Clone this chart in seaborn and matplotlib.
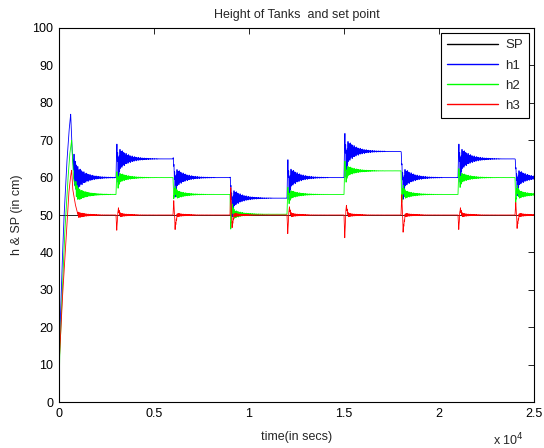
import numpy as np
import pandas as pd
import matplotlib
matplotlib.use("Agg")
import matplotlib.pyplot as plt
import seaborn as sns

# ---------------- data ----------------
step_times = [0, 3000, 6000, 9000, 12000, 15000, 18000, 21000, 24000]
sp_time = [0, 25000]
sp_value = [50, 50]

# settled levels after each set-point change
h1_level = [60, 65, 60, 54.5, 60, 67, 60, 65, 60]
h2_level = [55.5, 60, 55.5, 50.2, 55.5, 61.8, 55.5, 60, 55.5]
h3_level = [50, 50, 50, 50, 50, 50, 50, 50, 50]

# first and second excursion after each change (index 0 unused), oscillation size
h1_first = [None, 69, 63.6, 58, 65, 72, 63.8, 69, 62.7]
h1_second = [None, 62, 57.5, 52, 57, 63.5, 57, 62, 57.5]
h1_osc = [4.0, 3.8, 3.2, 3.0, 3.4, 4.0, 3.3, 3.8, 2.8]

h2_first = [None, 61.6, 54.5, 46.4, 57.5, 64.5, 53.5, 62.5, 53.5]
h2_second = [None, 58.6, 56.8, 52, 54.3, 60.3, 57, 58.8, 57]
h2_osc = [1.9, 1.7, 1.5, 1.6, 1.5, 1.8, 1.5, 1.7, 1.5]

h3_first = [None, 46, 53.9, 57.4, 45.1, 44, 55.5, 46.2, 53.4]
h3_second = [None, 51.7, 46.7, 47.2, 52, 52.5, 46, 51.7, 47]
h3_osc = [0.7, 0.7, 0.7, 0.7, 0.7, 0.7, 0.7, 0.7, 0.7]

# initial fill-up transient
h1_init_t = [0, 20, 140, 250, 400, 520, 615, 700, 780]
h1_init_v = [0, 14, 33, 48, 63, 72, 77, 66, 62]
h2_init_t = [0, 30, 160, 300, 450, 560, 665, 760, 880]
h2_init_v = [0, 11, 28, 45, 58, 66, 70, 60, 57]
h3_init_t = [0, 5, 160, 350, 500, 600, 665, 720, 850, 1000]
h3_init_v = [0, 10, 26, 42, 55, 60, 62, 57, 53, 50]

t = np.arange(0, 25001, 2.0)


def build(levels, first, second, osc, init_t, init_v, period=40.0):
    y = np.empty_like(t)
    m0 = t <= init_t[-1]
    y[m0] = np.interp(t[m0], init_t, init_v)
    for k in range(len(step_times)):
        t0 = step_times[k] if k > 0 else init_t[-1]
        t1 = step_times[k + 1] if k + 1 < len(step_times) else t[-1] + 1
        m = (t > t0) & (t < t1) if k == 0 else (t >= t0) & (t < t1)
        tau = t[m] - t0
        L = levels[k]
        if k == 0:
            shape = np.interp(tau, [0, 150], [init_v[-1], L])
            env = np.exp(-tau / 450.0)
        else:
            shape = np.interp(tau, [0, 40, 110, 220],
                              [levels[k - 1], first[k], second[k], L])
            env = np.exp(-tau / 450.0) * np.clip(tau / 120.0, 0, 1)
        wob = osc[k] * env * np.sin(2 * np.pi * tau / period)
        tail = (0.15 * osc[k] * np.exp(-tau / 900.0)
                * np.sin(2 * np.pi * tau / (period * 1.6)) * (tau < 2200))
        y[m] = shape + wob + tail
    return y


h1 = build(h1_level, h1_first, h1_second, h1_osc, h1_init_t, h1_init_v)
h2 = build(h2_level, h2_first, h2_second, h2_osc, h2_init_t, h2_init_v)
h3 = build(h3_level, h3_first, h3_second, h3_osc, h3_init_t, h3_init_v)

# ---------------- plotting ----------------
sns.set_style("white")
plt.rcParams['font.family'] = ['Liberation Sans', 'DejaVu Sans']

fig = plt.figure(figsize=(5.44, 4.48), dpi=100)
ax = fig.add_axes([59 / 544, 1 - 402 / 448, 475 / 544, 374 / 448])

lw = 0.6
sns.lineplot(x=sp_time, y=sp_value, color='black', lw=lw, ax=ax, label='SP')
sns.lineplot(x=t, y=h1, color='#0000ff', lw=lw, ax=ax, label='h1',
             estimator=None, sort=False)
sns.lineplot(x=t, y=h2, color='#00ff00', lw=lw, ax=ax, label='h2',
             estimator=None, sort=False)
sns.lineplot(x=t, y=h3, color='#ff0000', lw=lw, ax=ax, label='h3',
             estimator=None, sort=False)

ax.set_xlim(0, 25000)
ax.set_ylim(0, 100)
ax.set_xticks([0, 5000, 10000, 15000, 20000, 25000])
ax.set_xticklabels(['0', '0.5', '1', '1.5', '2', '2.5'])
ax.set_yticks(np.arange(0, 101, 10))
ax.tick_params(axis='both', which='both', direction='in', length=4, width=0.6,
               top=True, right=True, labelsize=9, colors='black', pad=4)
for s in ax.spines.values():
    s.set_visible(True)
    s.set_color('black')
    s.set_linewidth(0.8)

ax.set_title('Height of Tanks  and set point', fontsize=9, pad=7)
ax.set_xlabel('time(in secs)', fontsize=9, labelpad=8)
ax.set_ylabel('h & SP (in cm)', fontsize=9, labelpad=7)
fig.text(493 / 544, 1 - 440 / 448, r'x 10$^4$', fontsize=9, va='center', ha='left')

leg = ax.legend(loc='upper right', fontsize=9.5, frameon=True, fancybox=False,
                framealpha=1, edgecolor='black', handlelength=3.9,
                handletextpad=0.5, labelspacing=0.6, borderpad=0.45,
                borderaxespad=0.4)
leg.get_frame().set_linewidth(0.8)
for line in leg.get_lines():
    line.set_linewidth(1.0)

fig.savefig('out.png', dpi=100)
